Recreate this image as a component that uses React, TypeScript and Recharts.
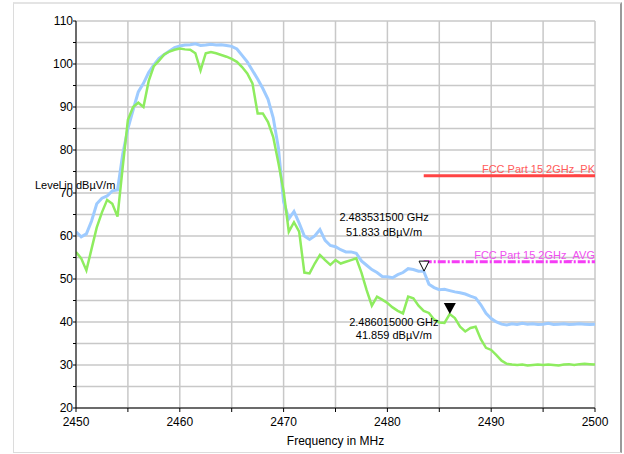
import { LineChart, Line, XAxis, YAxis, CartesianGrid, ReferenceDot } from "recharts";

// sweep frequencies in MHz (0.5 MHz step)
const freqs = [
  2450, 2450.5, 2451, 2451.5, 2452, 2452.5, 2453, 2453.5, 2454, 2454.5,
  2455, 2455.5, 2456, 2456.5, 2457, 2457.5, 2458, 2458.5, 2459, 2459.5,
  2460, 2460.5, 2461, 2461.5, 2462, 2462.5, 2463, 2463.5, 2464, 2464.5,
  2465, 2465.5, 2466, 2466.5, 2467, 2467.5, 2468, 2468.5, 2469, 2469.5,
  2470, 2470.5, 2471, 2471.5, 2472, 2472.5, 2473, 2473.5, 2474, 2474.5,
  2475, 2475.5, 2476, 2476.5, 2477, 2477.5, 2478, 2478.5, 2479, 2479.5,
  2480, 2480.5, 2481, 2481.5, 2482, 2482.5, 2483, 2483.5, 2484, 2484.5,
  2485, 2485.5, 2486, 2486.5, 2487, 2487.5, 2488, 2488.5, 2489, 2489.5,
  2490, 2490.5, 2491, 2491.5, 2492, 2492.5, 2493, 2493.5, 2494, 2494.5,
  2495, 2495.5, 2496, 2496.5, 2497, 2497.5, 2498, 2498.5, 2499, 2499.5,
  2500,
];

// peak trace, dBuV/m
const peakLevels = [
  61, 59.8, 60.5, 63.5, 67.5, 68.8, 69.3, 70.5, 70.7, 79,
  85, 89.3, 93.5, 95.5, 98, 99.8, 101.3, 102.2, 103, 103.8,
  104.2, 104.4, 104.5, 104.7, 104.3, 104.4, 104.6, 104.4, 104.5, 104.3,
  104.1, 103.5, 102, 100.5, 98.5, 96.5, 94.3, 91.8, 87.5, 80.5,
  68, 64, 65.7, 63, 60, 59.2, 60, 61.5, 59, 57.8,
  57.5, 56.8, 56.3, 56.3, 56, 54.2, 53.2, 52.2, 51.5, 50.6,
  50.5, 50.3, 51, 51.5, 52.4, 52.2, 51.8, 51.8, 48.8, 48,
  47.5, 47.6, 47.3, 47, 46.8, 46.5, 46, 45.6, 44, 42,
  40.8, 40, 39.5, 39.3, 39.6, 39.4, 39.7, 39.5, 39.6, 39.4,
  39.5, 39.7, 39.4, 39.5, 39.6, 39.4, 39.5, 39.6, 39.5, 39.4,
  39.5,
];

// average trace, dBuV/m
const avgLevels = [
  56.3, 54.8, 52, 57, 62, 65.5, 68.4, 67.5, 64.5, 76,
  87, 90, 91, 90, 96, 99.5, 100.8, 102.2, 102.9, 103.3,
  103.6, 103.4, 103.3, 102.5, 98.5, 102.5, 102.8, 102.5, 102.1, 101.7,
  101.2, 100.5, 99.3, 97.8, 95.5, 88.5, 88.5, 86.5, 83, 77,
  70.5, 61, 63.2, 61, 51.5, 51.3, 53.6, 55.6, 54.4, 53.3,
  54.4, 53.6, 54, 54.4, 54.8, 51.5, 47.4, 43.8, 45.9, 45.2,
  44.4, 43.4, 42.6, 42, 45.9, 45.5, 43.8, 42.6, 42.1, 40.6,
  39.9, 39.8, 41.859, 40.9, 38.9, 37.8, 38.6, 38.9, 36, 34,
  33.5, 32.3, 31, 30.3, 30.1, 30, 30.1, 29.9, 30, 30.1,
  30, 30.1, 30, 29.9, 30.1, 30.2, 30, 30.2, 30.3, 30.2,
  30.1,
];

const limitFreqs = [2483.5, 2500];
const pkLimit = [74, 74];
const avgLimit = [54, 54];

const xTicks = [2450, 2455, 2460, 2465, 2470, 2475, 2480, 2485, 2490, 2495, 2500];
const yTicks = [20, 25, 30, 35, 40, 45, 50, 55, 60, 65, 70, 75, 80, 85, 90, 95, 100, 105, 110];

const peakMarker = { f: 2483.5315, v: 51.833, l1: "2.483531500 GHz", l2: "51.833 dBµV/m" };
const avgMarker = { f: 2486.015, v: 41.859, l1: "2.486015000 GHz", l2: "41.859 dBµV/m" };

const peakData = freqs.map((f, i) => ({ f, v: peakLevels[i] }));
const avgData = freqs.map((f, i) => ({ f, v: avgLevels[i] }));
const pkData = limitFreqs.map((f, i) => ({ f, v: pkLimit[i] }));
const avgLimData = limitFreqs.map((f, i) => ({ f, v: avgLimit[i] }));

const font = "'Liberation Sans', Arial, sans-serif";

const limitLabel = (text: string, color: string) => (p: any) =>
  p.index === 1 ? (
    <text x={p.x} y={p.y - 3} textAnchor="end" fill={color} fontSize={11} fontFamily={font}>
      {text}
    </text>
  ) : (
    <g />
  );

export default function App() {
  return (
    <div style={{ position: "absolute", left: 0, top: 0, width: 624, height: 454, background: "#fff" }}>
      <div
        style={{
          position: "absolute",
          left: 13,
          top: 2,
          width: 606,
          height: 448,
          borderTop: "2px solid #e4e4e4",
          borderLeft: "1px solid #dcdcdc",
          borderBottom: "1px solid #dcdcdc",
          borderRight: "2px solid #9a9a9a",
        }}
      />
      <div style={{ position: "absolute", left: 0, top: 0 }}>
        <LineChart width={624} height={454} margin={{ top: 21, right: 29, bottom: 0, left: 0 }}>
          <CartesianGrid stroke="#c8c8c8" strokeWidth={1.5} />
          <XAxis
            dataKey="f"
            type="number"
            domain={[2450, 2500]}
            ticks={xTicks}
            allowDataOverflow
            height={46}
            tickSize={4}
            tickMargin={5}
            stroke="#000"
            tick={{ fill: "#000", fontSize: 12, fontFamily: font }}
            tickFormatter={(v: number) => (v % 10 === 0 ? String(v) : "")}
            label={{
              content: ({ viewBox }: any) => (
                <text
                  x={viewBox.x + viewBox.width / 2}
                  y={viewBox.y + 37}
                  textAnchor="middle"
                  fill="#000"
                  fontSize={12}
                  fontFamily={font}
                >
                  Frequency in MHz
                </text>
              ),
            }}
          />
          <YAxis
            type="number"
            domain={[20, 110]}
            ticks={yTicks}
            allowDataOverflow
            width={76}
            tickSize={3}
            tickMargin={0}
            stroke="#000"
            tick={{ fill: "#000", fontSize: 12, fontFamily: font }}
            tickFormatter={(v: number) => (v % 10 === 0 ? String(v) : "")}
            label={{
              content: ({ viewBox }: any) => (
                <text x={35} y={viewBox.y + 168} fill="#000" fontSize={11} fontFamily={font}>
                  Level in dBµV/m
                </text>
              ),
            }}
          />
          <Line
            data={peakData}
            dataKey="v"
            stroke="#9ecbff"
            strokeWidth={3}
            dot={false}
            isAnimationActive={false}
          />
          <Line
            data={avgData}
            dataKey="v"
            stroke="#8eec5f"
            strokeWidth={2.5}
            dot={false}
            isAnimationActive={false}
          />
          <Line
            data={pkData}
            dataKey="v"
            stroke="#ff4444"
            strokeWidth={3}
            dot={false}
            isAnimationActive={false}
            label={limitLabel("FCC Part 15 2GHz_PK", "#ff5a5a")}
          />
          <Line
            data={avgLimData}
            dataKey="v"
            stroke="#f53cf5"
            strokeWidth={3}
            strokeDasharray="8 2 2 2"
            dot={false}
            isAnimationActive={false}
            label={limitLabel("FCC Part 15 2GHz_AVG", "#f050f0")}
          />
          <ReferenceDot
            x={peakMarker.f}
            y={peakMarker.v}
            shape={(p: any) => (
              <g fontFamily={font} fontSize={11} fill="#000">
                <path
                  d={`M${p.cx - 5},${p.cy - 10} L${p.cx + 5},${p.cy - 10} L${p.cx},${p.cy} Z`}
                  fill="#fff"
                  stroke="#000"
                  strokeWidth={1}
                />
                <text x={p.cx - 40} y={p.cy - 50} textAnchor="middle">{peakMarker.l1}</text>
                <text x={p.cx - 40} y={p.cy - 35} textAnchor="middle">{peakMarker.l2}</text>
              </g>
            )}
          />
          <ReferenceDot
            x={avgMarker.f}
            y={avgMarker.v}
            shape={(p: any) => (
              <g fontFamily={font} fontSize={11} fill="#000">
                <path
                  d={`M${p.cx - 6},${p.cy - 11} L${p.cx + 6},${p.cy - 11} L${p.cx},${p.cy} Z`}
                  fill="#000"
                />
                <text x={p.cx - 56} y={p.cy + 12} textAnchor="middle">{avgMarker.l1}</text>
                <text x={p.cx - 56} y={p.cy + 25} textAnchor="middle">{avgMarker.l2}</text>
              </g>
            )}
          />
        </LineChart>
      </div>
    </div>
  );
}
